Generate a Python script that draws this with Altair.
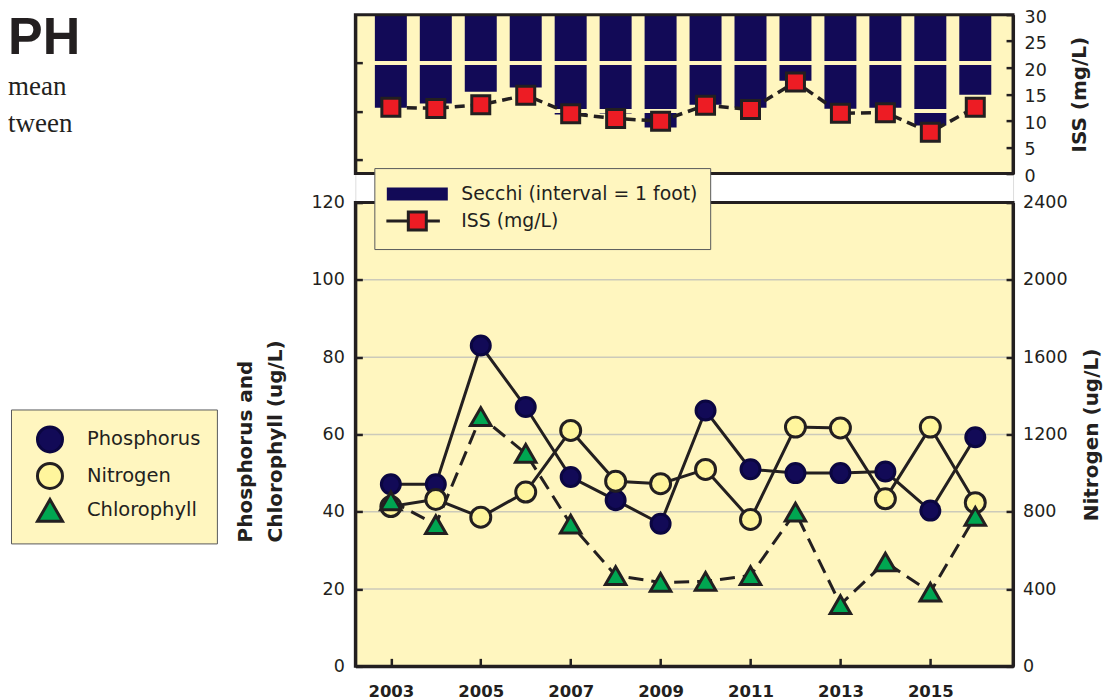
import altair as alt
import pandas as pd

# ---------------- data ----------------
years = list(range(2003, 2017))
secchi_ft = [1.93, 1.84, 1.60, 1.51, 2.07, 2.05, 2.34, 1.87, 1.93, 1.37, 1.95, 1.93, 2.30, 1.66]
iss_mgl = [12.5, 12.3, 13.0, 14.8, 11.3, 10.4, 9.9, 12.9, 12.1, 17.3, 11.4, 11.5, 7.8, 12.5]
phosphorus = [47.1, 47.1, 83.0, 67.1, 49.0, 43.0, 36.9, 66.2, 51.0, 50.0, 50.0, 50.4, 40.3, 59.3]
nitrogen = [827, 864, 772, 902, 1221, 958, 945, 1019, 760, 1238, 1234, 867, 1238, 847]
chlorophyll = [42.8, 36.7, 64.6, 55.1, 36.8, 23.5, 21.7, 22.0, 23.5, 39.9, 16.0, 27.0, 19.2, 38.8]

series_top = ["Secchi (interval = 1 foot)", "ISS (mg/L)"]
series_bottom = ["Phosphorus", "Nitrogen", "Chlorophyll"]

x_domain = [2002.21, 2016.84]
x_ticks = [2003, 2005, 2007, 2009, 2011, 2013, 2015]
iss_domain = [0, 30]
iss_ticks = [0, 5, 10, 15, 20, 25, 30]
secchi_domain = [0, 3.295]
secchi_ticks = [1, 2, 3]
secchi_gaps = [1, 2]
pc_domain = [0, 120]
pc_ticks = [0, 20, 40, 60, 80, 100, 120]
pc_grid = [20, 40, 60, 80, 100]
n_domain = [0, 2400]
n_ticks = [0, 400, 800, 1200, 1600, 2000, 2400]

# ---------------- styles ----------------
BG = "#FFF6BF"
INK = "#231F20"
NAVY = "#120A57"
NAVY_EDGE = "#0B0640"
RED = "#ED1C24"
GREEN = "#00A651"
NYEL = "#FFF59D"
GRIDC = "#CCCABA"
FONT = "DejaVu Sans"

W, H = 658, 652
TOP_H = 159
BOT_TOP = 188

SECCHI_PATH = "M-2.417,-0.417H2.417V0.417H-2.417Z"
ISS_PATH = "M-2.58,0H-0.75M-0.75,-0.75H0.75V0.75H-0.75ZM0.75,0H1.88"

tick_grid = dict(grid=True, gridDash=[7, 4000], gridColor=INK, gridWidth=2.5, gridOpacity=1)
common_axis = dict(domainColor=INK, domainWidth=3, ticks=False, tickSize=0, zindex=1,
                   labelFont=FONT, labelFontSize=17.5, labelColor=INK, format="d",
                   titleFont=FONT, titleFontSize=20, titleFontWeight="bold", titleColor=INK)

x_axis = alt.Axis(values=x_ticks, format="d", title=None, orient="bottom",
                  labelFontWeight="bold", labelFontSize=16.5, labelPadding=17,
                  grid=True, gridDash=[8, 4000], gridColor=INK, gridWidth=2.5, gridOpacity=1,
                  domainColor=INK, domainWidth=3, ticks=False, tickSize=0, zindex=1,
                  labelFont=FONT, labelColor=INK)


def xenc(field):
    return alt.X(field, type="quantitative",
                 scale=alt.Scale(domain=x_domain, nice=False, zero=False, padding=0),
                 axis=x_axis)


iss_scale = alt.Scale(domain=iss_domain, range=[TOP_H, 0], nice=False, zero=False)
secchi_scale = alt.Scale(domain=secchi_domain, range=[0, TOP_H], nice=False, zero=False)
pc_scale = alt.Scale(domain=pc_domain, range=[H, BOT_TOP], nice=False, zero=False)
n_scale = alt.Scale(domain=n_domain, range=[H, BOT_TOP], nice=False, zero=False)

secchi_axis = alt.Axis(orient="left", values=secchi_ticks, labels=False, title=None,
                       **tick_grid, **common_axis)
iss_axis = alt.Axis(orient="right", values=iss_ticks, title="ISS (mg/L)", titleAngle=270,
                    titleBaseline="middle", titleX=66.5, labelPadding=11, labelOffset=2.5,
                    **tick_grid, **common_axis)
pc_axis = alt.Axis(orient="left", values=pc_ticks, title=["Phosphorus and", "Chlorophyll (ug/L)"],
                   titleAngle=270, titleAlign="left", titleBaseline="middle",
                   titleX=-110, titleY=527.5, titleLineHeight=30, labelPadding=11,
                   **tick_grid, **common_axis)
n_axis = alt.Axis(orient="right", values=n_ticks, title="Nitrogen (ug/L)", titleAngle=270,
                  titleBaseline="middle", titleX=78, labelPadding=9.5,
                  **tick_grid, **common_axis)

# ---------------- frames ----------------
frame_df = pd.DataFrame({"x0": [x_domain[0]], "x1": [x_domain[1]],
                         "s0": [secchi_domain[0]], "s1": [secchi_domain[1]],
                         "p0": [pc_domain[0]], "p1": [pc_domain[1]]})
gap_df = pd.DataFrame({"ft": secchi_gaps, "x0": x_domain[0], "x1": x_domain[1]})
grid_df = pd.DataFrame({"v": pc_grid, "x0": x_domain[0], "x1": x_domain[1]})

# ---------------- top panel ----------------
top_df = pd.DataFrame({"year": years, "secchi": secchi_ft, "iss": iss_mgl})
top_df["s0"] = 0.0

top_bg = alt.Chart(frame_df).mark_rect(fill=BG, strokeWidth=0).encode(
    x=xenc("x0"), x2="x1", y=alt.Y("s0:Q", scale=secchi_scale, axis=None), y2="s1")
bars = alt.Chart(top_df).mark_bar(color=NAVY, width=32).encode(
    x=xenc("year"), y=alt.Y("s0:Q", scale=secchi_scale, axis=secchi_axis), y2="secchi")
gaps = alt.Chart(gap_df).mark_rule(color=BG, strokeWidth=4).encode(
    x=xenc("x0"), x2="x1", y=alt.Y("ft:Q", scale=secchi_scale, axis=None))
iss_line = alt.Chart(top_df).mark_line(color=INK, strokeWidth=3.5, strokeDash=[10, 6]).encode(
    x=xenc("year"), y=alt.Y("iss:Q", scale=iss_scale, axis=None))
iss_pts = alt.Chart(top_df).mark_point(shape="square", filled=True, fill=RED, stroke=INK,
                                       strokeWidth=3, size=324, opacity=1).encode(
    x=xenc("year"), y=alt.Y("iss:Q", scale=iss_scale, axis=iss_axis))
top_frame = alt.Chart(frame_df).mark_rect(fillOpacity=0, stroke=INK, strokeWidth=3).encode(
    x=xenc("x0"), x2="x1", y=alt.Y("s0:Q", scale=secchi_scale, axis=None), y2="s1")

top_legend = alt.Legend(title=None, orient="none", legendX=19, legendY=153.5, padding=12.5,
                        fillColor=BG, strokeColor="#58595B", symbolSize=576,
                        symbolStrokeWidth=3, symbolOffset=17, labelOffset=30.5,
                        labelFont=FONT, labelFontSize=18.8, labelColor=INK, labelLimit=500,
                        rowPadding=0, symbolOpacity=1, zindex=1, cornerRadius=0)
legend_top = alt.Chart(pd.DataFrame({"series": series_top})).mark_point(
    filled=True, opacity=0).encode(
    fill=alt.Fill("series:N", scale=alt.Scale(domain=series_top, range=[NAVY, RED]), legend=top_legend),
    shape=alt.Shape("series:N", scale=alt.Scale(domain=series_top, range=[SECCHI_PATH, ISS_PATH]),
                    legend=top_legend),
    stroke=alt.Stroke("series:N", scale=alt.Scale(domain=series_top, range=[NAVY, INK]),
                      legend=top_legend))

top_group = alt.layer(top_bg, bars, gaps, iss_line, iss_pts, top_frame, legend_top).resolve_scale(
    y="independent")

# ---------------- bottom panel ----------------
p_df = pd.DataFrame({"year": years, "value": phosphorus, "param": series_bottom[0]})
n_df = pd.DataFrame({"year": years, "value": nitrogen, "param": series_bottom[1]})
c_df = pd.DataFrame({"year": years, "value": chlorophyll, "param": series_bottom[2]})

bot_legend = alt.Legend(title=None, orient="none", legendX=-344.5, legendY=395, padding=16,
                        fillColor=BG, strokeColor="#58595B", symbolSize=625,
                        symbolStrokeWidth=3, symbolOffset=9, labelOffset=23,
                        labelFont=FONT, labelFontSize=19.5, labelColor=INK, labelLimit=300,
                        rowPadding=-1.5, symbolOpacity=1, zindex=1, cornerRadius=0)


def series_enc():
    return dict(
        fill=alt.Fill("param:N", scale=alt.Scale(domain=series_bottom, range=[NAVY, NYEL, GREEN]),
                      legend=bot_legend),
        shape=alt.Shape("param:N", scale=alt.Scale(domain=series_bottom,
                                                   range=["circle", "circle", "triangle-up"]),
                        legend=bot_legend),
        stroke=alt.Stroke("param:N", scale=alt.Scale(domain=series_bottom,
                                                     range=[NAVY_EDGE, INK, INK]),
                          legend=bot_legend),
    )


bot_bg = alt.Chart(frame_df).mark_rect(fill=BG, strokeWidth=0).encode(
    x=xenc("x0"), x2="x1", y=alt.Y("p0:Q", scale=pc_scale, axis=None), y2="p1")
grid_rules = alt.Chart(grid_df).mark_rule(color=GRIDC, strokeWidth=1.5).encode(
    x=xenc("x0"), x2="x1", y=alt.Y("v:Q", scale=pc_scale, axis=None))

p_line = alt.Chart(p_df).mark_line(color=INK, strokeWidth=3).encode(
    x=xenc("year"), y=alt.Y("value:Q", scale=pc_scale, axis=pc_axis))
p_pts = alt.Chart(p_df).mark_point(filled=True, size=361, strokeWidth=3, opacity=1).encode(
    x=xenc("year"), y=alt.Y("value:Q", scale=pc_scale, axis=None), **series_enc())
n_line = alt.Chart(n_df).mark_line(color=INK, strokeWidth=3).encode(
    x=xenc("year"), y=alt.Y("value:Q", scale=n_scale, axis=n_axis))
n_pts = alt.Chart(n_df).mark_point(filled=True, size=400, strokeWidth=3, opacity=1).encode(
    x=xenc("year"), y=alt.Y("value:Q", scale=n_scale, axis=None), **series_enc())
c_line = alt.Chart(c_df).mark_line(color=INK, strokeWidth=3, strokeDash=[15, 8]).encode(
    x=xenc("year"), y=alt.Y("value:Q", scale=pc_scale, axis=None))
c_pts = alt.Chart(c_df).mark_point(filled=True, size=420, strokeWidth=3, opacity=1).encode(
    x=xenc("year"), y=alt.Y("value:Q", scale=pc_scale, axis=None), **series_enc())
bot_frame = alt.Chart(frame_df).mark_rect(fillOpacity=0, stroke=INK, strokeWidth=3).encode(
    x=xenc("x0"), x2="x1", y=alt.Y("p0:Q", scale=pc_scale, axis=None), y2="p1")

bottom_group = alt.layer(bot_bg, grid_rules, p_line, p_pts, n_line, n_pts, c_line, c_pts,
                         bot_frame).resolve_scale(y="independent")

chart = alt.layer(top_group, bottom_group).resolve_scale(
    y="independent", fill="independent", shape="independent", stroke="independent"
).properties(
    width=W, height=H,
    autosize=alt.AutoSizeParams(type="none"),
    padding={"left": 347.5, "top": 6.5, "right": 94, "bottom": 34},
    title=alt.TitleParams(text="PH", subtitle=["mean", "tween"], anchor="start", frame="group",
                          dx=-347.5, dy=130, offset=0,
                          font="Liberation Sans", fontSize=52, fontWeight="bold", color=INK,
                          subtitleFont="Liberation Serif", subtitleFontSize=27,
                          subtitleFontWeight="normal", subtitleColor=INK,
                          subtitleLineHeight=37, subtitlePadding=9),
).configure_view(stroke=None).configure(background="white")

chart.save("out.html", embed_options={"renderer": "svg", "actions": False})
